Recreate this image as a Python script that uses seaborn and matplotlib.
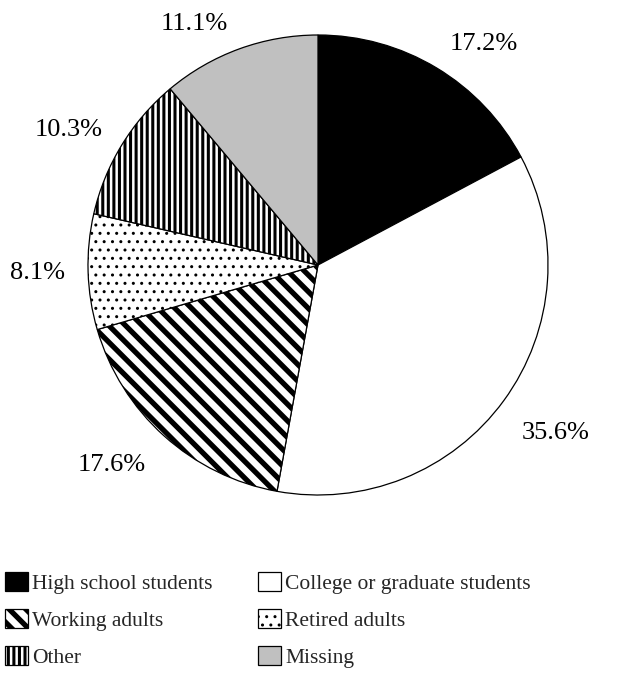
import matplotlib
matplotlib.use("Agg")
import numpy as np
import matplotlib.pyplot as plt
from matplotlib.patches import Patch
import seaborn as sns

# shares of respondents (%)
groups = ["High school students", "College or graduate students", "Working adults",
          "Retired adults", "Other", "Missing"]
shares = [17.2, 35.6, 17.6, 8.1, 10.3, 11.1]

colors = ["black", "white", "white", "white", "white", "#c0c0c0"]
hatches = [None, None, "\\\\", "..", "|||", None]
hatch_lw = [1.0, 1.0, 3.8, 1.0, 2.2, 1.0]
# label placement tweaks (radius factor, angle shift in degrees)
label_dist = [1.21, 1.26, 1.24, 1.22, 1.24, 1.19]
label_shift = [-5.5, 1.3, -4.2, -0.6, 2.6, 6.8]


def with_hatch_lw(artist, lw):
    '''draw an artist with its own hatch line width'''
    try:
        artist.set_hatch_linewidth(lw)
    except AttributeError:
        pass
    orig = artist.draw

    def draw(renderer):
        with plt.rc_context({"hatch.linewidth": lw}):
            try:
                artist.set_hatch_linewidth(lw)
            except AttributeError:
                pass
            orig(renderer)
    artist.draw = draw


sns.set_theme(style="white")
plt.rcParams["font.family"] = ["Liberation Serif", "DejaVu Serif"]
plt.rcParams["hatch.color"] = "black"

fig = plt.figure(figsize=(6.23, 6.83), dpi=100)
cx, cy, r = 318 / 623, 1 - 265 / 683, 230
ax = fig.add_axes([cx - r / 623, cy - r / 683, 2 * r / 623, 2 * r / 683])

wedges, texts, autotexts = ax.pie(
    shares, colors=colors, startangle=90, counterclock=False,
    autopct="%1.1f%%", pctdistance=1.2,
    wedgeprops=dict(edgecolor="black", linewidth=0.9),
    textprops=dict(fontsize=19, color="black"))
for w, h, lw, t, d, s in zip(wedges, hatches, hatch_lw, autotexts, label_dist, label_shift):
    if h:
        w.set_hatch(h)
        with_hatch_lw(w, lw)
    ang = np.deg2rad((w.theta1 + w.theta2) / 2 + s)
    t.set_position((d * np.cos(ang), d * np.sin(ang) - 0.013))
ax.set_xlim(-1, 1)
ax.set_ylim(-1, 1)
ax.axis("off")

handles = [Patch(facecolor=c, edgecolor="black", hatch=h, linewidth=0.9)
           for c, h in zip(colors, hatches)]
# reorder so legend reads row by row in two columns
order = [0, 2, 4, 1, 3, 5]
leg = fig.legend([handles[i] for i in order], [groups[i] for i in order],
                 loc="upper left", bbox_to_anchor=(0.008, 1 - 572 / 683), ncol=2,
                 frameon=False, fontsize=15.5, handlelength=1.07, handleheight=1.0,
                 handletextpad=0.18, columnspacing=2.14, labelspacing=0.7, borderpad=0,
                 borderaxespad=0)
for p, i in zip(leg.get_patches(), order):
    if hatches[i]:
        with_hatch_lw(p, hatch_lw[i])

fig.savefig("out.png", dpi=100)
